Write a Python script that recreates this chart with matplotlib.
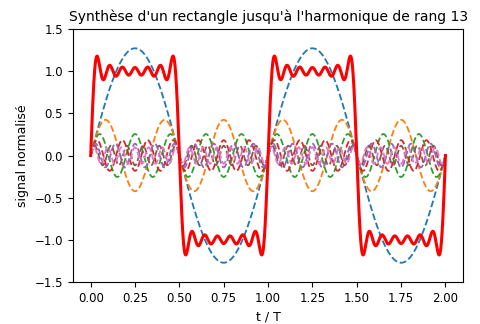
import numpy as np
import matplotlib
matplotlib.use('Agg')
import matplotlib.pyplot as plt

# harmonic ranks and their amplitudes
ranks = [1, 3, 5, 7, 9, 11, 13]
amps = [1.273, 0.424, 0.255, 0.182, 0.141, 0.116, 0.098]

t = np.linspace(0, 2, 2000)

fig = plt.figure(figsize=(4.8, 3.24), dpi=100)
ax = fig.add_axes([0.152, 0.13, 0.813, 0.78])

total = np.zeros_like(t)
for n, a in zip(ranks, amps):
    h = a * np.sin(2 * np.pi * n * t)
    total += h
    ax.plot(t, h, '--', linewidth=1.3)

ax.plot(t, total, color='red', linewidth=2.2)

ax.set_ylim(-1.5, 1.5)
ax.set_xticks([0, 0.25, 0.5, 0.75, 1.0, 1.25, 1.5, 1.75, 2.0])
ax.tick_params(labelsize=8.5)
ax.set_xlabel('t / T', fontsize=9)
ax.set_ylabel('signal normalisé', fontsize=9)
ax.set_title("Synthèse d'un rectangle jusqu'à l'harmonique de rang 13", fontsize=10)

fig.savefig('out.png', dpi=100)
